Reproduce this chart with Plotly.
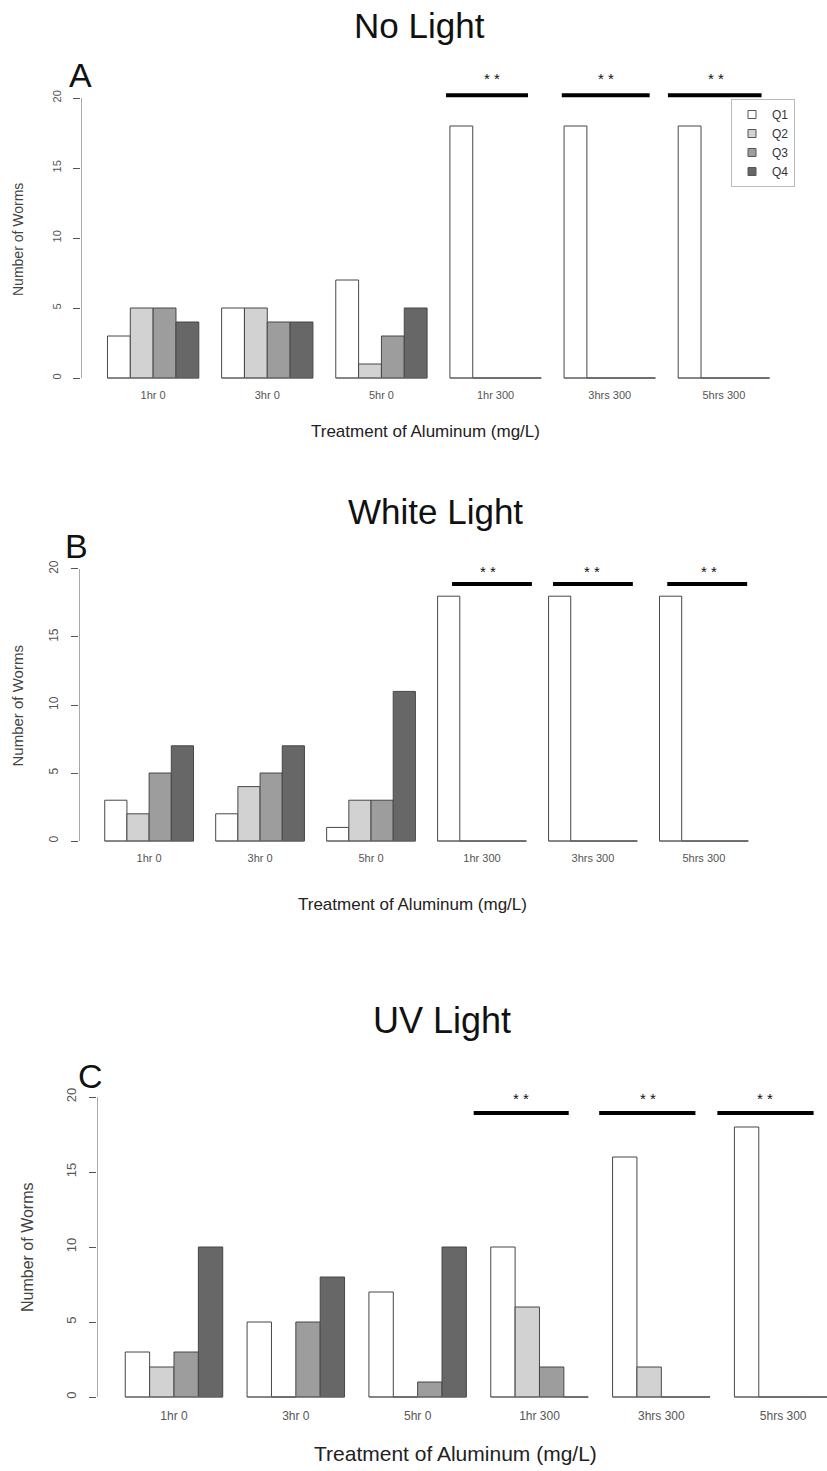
import plotly.graph_objects as go

W, H = 827, 1471

# Treatment groups and quartile series
groups = ["1hr 0", "3hr 0", "5hr 0", "1hr 300", "3hrs 300", "5hrs 300"]
quartiles = ["Q1", "Q2", "Q3", "Q4"]

# Number of worms in each quartile (rows Q1..Q4) for every treatment group
no_light = [
    [3, 5, 7, 18, 18, 18],
    [5, 5, 1, 0, 0, 0],
    [5, 4, 3, 0, 0, 0],
    [4, 4, 5, 0, 0, 0],
]
white_light = [
    [3, 2, 1, 18, 18, 18],
    [2, 4, 3, 0, 0, 0],
    [5, 5, 3, 0, 0, 0],
    [7, 7, 11, 0, 0, 0],
]
uv_light = [
    [3, 5, 7, 10, 16, 18],
    [2, 0, 0, 6, 2, 0],
    [3, 5, 1, 2, 0, 0],
    [10, 8, 10, 0, 0, 0],
]

y_ticks = [0, 5, 10, 15, 20]

fills = ["#ffffff", "#d2d2d2", "#9d9d9d", "#676767"]
edge = "#474747"
BARGAP = 0.2


def fx(px):
    return px / W


def fy(py):
    return 1 - py / H


# page geometry of the three panels (pixels)
panels = [
    dict(data=no_light, title="No Light", letter="A",
         left=81, right=796, top=86.8, bottom=389.2, xr=[-0.632, 5.632],
         title_xy=(419, 26), letter_xy=(80, 75), xlab_xy=(425, 432), ylab_xy=(18, 240),
         title_size=35, letter_size=34, xlab_size=17, ylab_size=14, xtick_size=11, ytick_size=11,
         sig_x=[(2.566, 3.284), (3.58, 4.35), (4.51, 5.33)], sig_y=20.2,
         star_x=[2.97, 3.97, 4.93], star_shift=17),
    dict(data=white_light, title="White Light", letter="B",
         left=79, right=774, top=558.1, bottom=851.9, xr=[-0.632, 5.632],
         title_xy=(436, 512), letter_xy=(76, 546), xlab_xy=(412, 904), ylab_xy=(17.5, 706),
         title_size=35, letter_size=34, xlab_size=17, ylab_size=15, xtick_size=11, ytick_size=12,
         sig_x=[(2.73, 3.45), (3.64, 4.36), (4.67, 5.39)], sig_y=18.9,
         star_x=[3.05, 3.99, 5.05], star_shift=12),
    dict(data=uv_light, title="UV Light", letter="C",
         left=97, right=827, top=1085, bottom=1409, xr=[-0.632, 5.36],
         title_xy=(442, 1020), letter_xy=(90, 1076), xlab_xy=(455, 1453), ylab_xy=(27, 1247),
         title_size=36, letter_size=34, xlab_size=21, ylab_size=16, xtick_size=12, ytick_size=13,
         sig_x=[(2.46, 3.24), (3.49, 4.28), (4.46, 5.25)], sig_y=18.93,
         star_x=[2.85, 3.89, 4.85], star_shift=15),
]

fig = go.Figure()
shapes = []
annotations = []
font_family = "Liberation Sans, Arial, sans-serif"

n_groups = len(groups)
bar_w = (1 - BARGAP) / len(quartiles)

for i, p in enumerate(panels):
    suffix = "" if i == 0 else str(i + 1)
    xa, ya = "x" + suffix, "y" + suffix

    # bars for each quartile
    for q, name in enumerate(quartiles):
        fig.add_trace(go.Bar(
            x=list(range(n_groups)), y=p["data"][q], name=name,
            marker=dict(color=fills[q], line=dict(color=edge, width=1)),
            xaxis=xa, yaxis=ya, showlegend=False, hoverinfo="x+y",
        ))

    # baseline under each group (zero-height bars collapse onto it)
    bx, by = [], []
    for g in range(n_groups):
        half = len(quartiles) * bar_w / 2
        bx += [g - half, g + half, None]
        by += [0, 0, None]
    fig.add_trace(go.Scatter(x=bx, y=by, mode="lines", line=dict(color="#6a6a6a", width=1),
                             xaxis=xa, yaxis=ya, showlegend=False, hoverinfo="skip"))

    fig.update_layout(**{
        "xaxis" + suffix: dict(
            domain=[fx(p["left"]), fx(p["right"])], range=p["xr"], anchor=ya,
            tickmode="array", tickvals=list(range(n_groups)), ticktext=groups,
            ticks="", showgrid=False, zeroline=False, showline=False,
            tickfont=dict(size=p["xtick_size"], color="#555", family=font_family),
            ticklabelstandoff=-2,
        ),
        "yaxis" + suffix: dict(
            domain=[fy(p["bottom"]), fy(p["top"])], range=[-0.8, 20.8], anchor=xa,
            tickmode="array", tickvals=y_ticks, tickangle=-90,
            ticks="outside", ticklen=7, tickcolor="#555", tickwidth=1,
            showgrid=False, zeroline=False, showline=False,
            tickfont=dict(size=p["ytick_size"], color="#555", family=font_family),
            ticklabelstandoff=8,
        ),
    })

    # y axis line spanning the tick range only
    shapes.append(dict(type="line", xref=xa, yref=ya, x0=p["xr"][0], x1=p["xr"][0],
                       y0=y_ticks[0], y1=y_ticks[-1], line=dict(color="#555", width=1)))

    # significance bars and stars
    for (x0, x1), sx in zip(p["sig_x"], p["star_x"]):
        shapes.append(dict(type="line", xref=xa, yref=ya, x0=x0, x1=x1,
                           y0=p["sig_y"], y1=p["sig_y"], line=dict(color="black", width=4)))
        annotations.append(dict(xref=xa, yref=ya, x=sx, y=p["sig_y"], yshift=p["star_shift"],
                                text="* *", showarrow=False,
                                font=dict(size=15, color="#111", family=font_family)))

    tx, ty = p["title_xy"]
    annotations.append(dict(xref="paper", yref="paper", x=fx(tx), y=fy(ty), text=p["title"],
                            showarrow=False, xanchor="center", yanchor="middle",
                            font=dict(size=p["title_size"], color="#111", family=font_family)))
    lx, ly = p["letter_xy"]
    annotations.append(dict(xref="paper", yref="paper", x=fx(lx), y=fy(ly), text=p["letter"],
                            showarrow=False, xanchor="center", yanchor="middle",
                            font=dict(size=p["letter_size"], color="#111", family=font_family)))
    xx, xy = p["xlab_xy"]
    annotations.append(dict(xref="paper", yref="paper", x=fx(xx), y=fy(xy),
                            text="Treatment of Aluminum (mg/L)", showarrow=False,
                            xanchor="center", yanchor="middle",
                            font=dict(size=p["xlab_size"], color="#222", family=font_family)))
    yx, yy = p["ylab_xy"]
    annotations.append(dict(xref="paper", yref="paper", x=fx(yx), y=fy(yy),
                            text="Number of Worms", textangle=-90, showarrow=False,
                            xanchor="center", yanchor="middle",
                            font=dict(size=p["ylab_size"], color="#444", family=font_family)))

# legend entries (top panel only)
for q, name in enumerate(quartiles):
    fig.add_trace(go.Scatter(
        x=[None], y=[None], mode="markers", name=name,
        marker=dict(symbol="square", size=8, color=fills[q], line=dict(color="#555", width=1)),
        xaxis="x", yaxis="y", showlegend=True,
    ))

fig.update_layout(
    width=W, height=H,
    margin=dict(l=0, r=0, t=0, b=0),
    paper_bgcolor="white", plot_bgcolor="white",
    barmode="group", bargap=BARGAP, bargroupgap=0,
    shapes=shapes, annotations=annotations,
    font=dict(family=font_family),
    legend=dict(x=fx(795), y=fy(99), xanchor="right", yanchor="top",
                bordercolor="#bbbbbb", borderwidth=1, bgcolor="white",
                font=dict(size=12, color="#333"), tracegroupgap=0,
                itemwidth=30),
)

fig.write_html("out.html")
